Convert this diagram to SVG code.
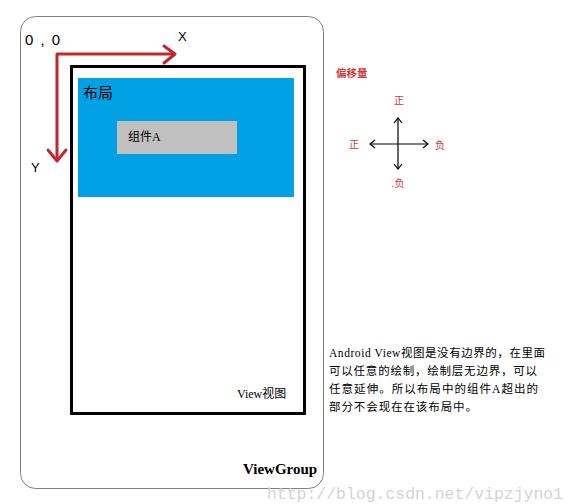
<svg xmlns="http://www.w3.org/2000/svg" width="578" height="504" viewBox="0 0 578 504">
<style>
.sans{font-family:"Liberation Sans","Noto Sans CJK SC",sans-serif}
.serif{font-family:"Liberation Serif","Noto Sans CJK SC",serif}
.red{fill:#d03a3a}
.redline{stroke:#c1272d;stroke-width:3;fill:none;stroke-linecap:round;stroke-linejoin:round}
.blk{stroke:#000;stroke-width:1.2;fill:none}
</style>
<rect width="578" height="504" fill="#fff"/>
<g id="viewgroup">
<rect x="20.5" y="16.5" width="303" height="472" rx="15" fill="none" stroke="#808080" stroke-width="1"/>
<text x="243" y="474" class="serif" font-size="15" font-weight="bold" fill="#000">ViewGroup</text>
</g>
<g id="view">
<rect x="71.5" y="66.5" width="233" height="347" fill="#fff" stroke="#000" stroke-width="3"/>
<text x="237" y="398" class="serif" font-size="12" fill="#000">View视图</text>
</g>
<g id="layout">
<rect x="78" y="78" width="216" height="119" fill="#00a0e4"/>
<text x="83" y="98" class="sans" font-size="15" fill="#000">布局</text>
</g>
<g id="componentA">
<rect x="117" y="121" width="120" height="33" fill="#c0c0c0"/>
<text x="128" y="141" class="serif" font-size="12" fill="#000">组件A</text>
</g>
<g id="axes">
<path class="redline" d="M57,160 V54 H174"/>
<path class="redline" d="M164,46 L175,54 L164,63"/>
<path class="redline" d="M48,150 L57,161 L66,150"/>
<text x="25" y="45" class="sans" font-size="15" fill="#000" textLength="35" lengthAdjust="spacing">0 , 0</text>
<text x="178" y="41" class="sans" font-size="13" fill="#000">X</text>
<text x="31" y="172" class="sans" font-size="13" fill="#000">Y</text>
</g>
<g id="offset">
<text x="336" y="77" class="sans red" font-size="10.5" font-weight="bold">偏移量</text>
<path class="blk" d="M398,118 V169 M370,144 H428"/>
<path class="blk" d="M394,123 L398,118 L402,123 M394,164 L398,169 L402,164 M375,140 L370,144 L375,148 M423,140 L428,144 L423,148"/>
<text x="399" y="104" class="sans red" font-size="10" text-anchor="middle">正</text>
<text x="354" y="148" class="sans red" font-size="10" text-anchor="middle">正</text>
<text x="440" y="149" class="sans red" font-size="10" text-anchor="middle">负</text>
<text x="398" y="187" class="sans red" font-size="10" text-anchor="middle">.负</text>
</g>
<g id="note" class="serif" font-size="11.5" fill="#000">
<text x="329" y="357" textLength="216" lengthAdjust="spacing">Android View视图是没有边界的，在里面</text>
<text x="329" y="375" textLength="208" lengthAdjust="spacing">可以任意的绘制，绘制层无边界，可以</text>
<text x="329" y="393" textLength="209" lengthAdjust="spacing">任意延伸。所以布局中的组件A超出的</text>
<text x="329" y="411" textLength="148" lengthAdjust="spacing">部分不会现在在该布局中。</text>
</g>
<text x="267" y="499" font-family="Liberation Mono, monospace" font-size="16.5" fill="#d4d4d4" textLength="296" lengthAdjust="spacingAndGlyphs">http://blog.csdn.net/vipzjyno1</text>
</svg>
